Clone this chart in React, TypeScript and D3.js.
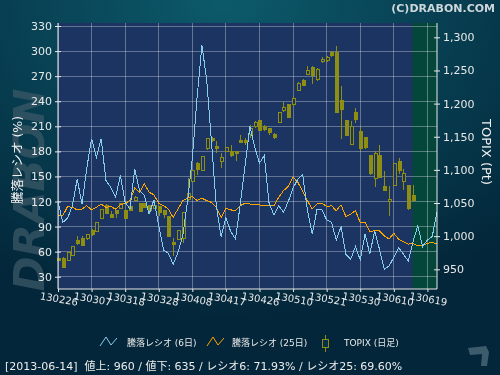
import React, { useEffect, useRef } from 'react';
import * as d3 from 'd3';

// x-axis tick labels (every 7 trading days)
const tickLabels = ['130226', '130307', '130318', '130328', '130408', '130417', '130426', '130510', '130521', '130530', '130610', '130619'];
const tickIndex = [0, 7, 14, 21, 28, 35, 42, 49, 56, 63, 70, 77];

const leftTicks = [30, 60, 90, 120, 150, 180, 210, 240, 270, 300, 330];
const rightTicks = [950, 1000, 1050, 1100, 1150, 1200, 1250, 1300];

// TOPIX daily candles, 2013-02-26 .. 2013-06-14
const openP = [966, 967, 963, 971, 994, 997, 996, 1009, 1007, 1027, 1046, 1032, 1038, 1042, 1038, 1045, 1054, 1050, 1050, 1046,
  1042, 1045, 1038, 1030, 991, 995, 997, 1055, 1083, 1109, 1099, 1132, 1148, 1136, 1112, 1127, 1127, 1127, 1145, 1144,
  1154, 1165, 1175, 1165, 1162, 1153, 1172, 1190, 1198, 1199, 1220, 1235, 1244, 1255, 1236, 1263, 1265, 1277, 1277, 1204,
  1175, 1138, 1187, 1158, 1149, 1121, 1087, 1122, 1075, 1052, 1076, 1112, 1083, 1077, 1062];
const highP = [967, 968, 976, 984, 1001, 1000, 1002, 1011, 1020, 1040, 1048, 1038, 1040, 1050, 1038, 1045, 1061, 1050, 1050, 1046,
  1046, 1045, 1040, 1031, 997, 1009, 1036, 1088, 1099, 1112, 1120, 1147, 1149, 1143, 1126, 1134, 1137, 1129, 1153, 1148,
  1167, 1173, 1175, 1168, 1162, 1156, 1187, 1202, 1198, 1211, 1233, 1237, 1257, 1257, 1254, 1271, 1272, 1279, 1287, 1226,
  1175, 1173, 1194, 1164, 1149, 1121, 1129, 1137, 1098, 1075, 1110, 1118, 1101, 1077, 1077];
const lowP = [962, 953, 963, 971, 986, 986, 994, 1000, 1007, 1027, 1033, 1028, 1027, 1042, 1027, 1039, 1053, 1037, 1044, 1039,
  1042, 1030, 1028, 999, 970, 995, 989, 1053, 1083, 1093, 1099, 1130, 1142, 1126, 1103, 1127, 1120, 1113, 1141, 1138,
  1148, 1163, 1158, 1158, 1153, 1146, 1172, 1187, 1179, 1197, 1219, 1226, 1244, 1229, 1234, 1261, 1263, 1271, 1187, 1147,
  1152, 1138, 1171, 1128, 1131, 1093, 1074, 1089, 1068, 1031, 1076, 1094, 1070, 1039, 1054];
const closeP = [964, 953, 976, 984, 989, 986, 1002, 1002, 1020, 1040, 1034, 1028, 1034, 1050, 1027, 1039, 1059, 1037, 1044, 1039,
  1046, 1035, 1032, 1000, 988, 1009, 1036, 1064, 1099, 1100, 1120, 1147, 1145, 1132, 1118, 1134, 1121, 1124, 1142, 1141,
  1162, 1171, 1160, 1161, 1156, 1149, 1187, 1194, 1179, 1208, 1231, 1228, 1250, 1242, 1252, 1267, 1269, 1273, 1187, 1191,
  1152, 1166, 1176, 1132, 1134, 1094, 1124, 1089, 1069, 1055, 1110, 1099, 1094, 1042, 1054];

// advance/decline ratio (%)
const ratio6 = [120, 95, 100, 115, 147, 117, 160, 195, 173, 195, 145, 137, 125, 151, 119, 111, 159, 133, 127, 105,
  122, 91, 62, 58, 45, 59, 79, 120, 172, 245, 307, 265, 190, 115, 78, 101, 84, 75, 117, 163,
  210, 185, 166, 175, 118, 104, 115, 107, 120, 136, 147, 152, 109, 81, 111, 110, 98, 95, 74, 90,
  57, 51, 66, 50, 81, 57, 85, 63, 39, 43, 53, 65, 57, 49, 71.93, 91, 66, 74, 78, 107];
const ratio25 = [103, 103, 114, 113, 110, 111, 115, 110, 113, 117, 113, 114, 111, 116, 118, 121, 136, 131, 141, 131,
  128, 118, 115, 111, 101, 111, 121, 124, 126, 121, 124, 121, 119, 113, 101, 112, 110, 109, 115, 118,
  117, 116, 116, 115, 115, 115, 125, 133, 138, 149, 143, 132, 121, 111, 117, 118, 114, 115, 109, 116,
  102, 105, 109, 95, 95, 84, 85, 85, 79, 75, 82, 75, 72, 69, 69.6, 67, 67, 70, 71, 69];

const FONT = '"DejaVu Sans", "Noto Sans CJK JP", sans-serif';

const App: React.FC = () => {
  const ref = useRef<SVGSVGElement>(null);

  useEffect(() => {
    if (!ref.current) return;
    const svg = d3.select(ref.current);
    svg.selectAll('*').remove();

    const W = 500, H = 375;
    const L = 58, R = 437, T = 23, B = 289;

    const x = d3.scaleLinear().domain([0, 79]).range([L, R]);
    const yL = d3.scaleLinear().domain([15.3, 333.6]).range([B, T]);
    const yR = d3.scaleLinear().domain([920.3, 1321.6]).range([B, T]);

    const defs = svg.append('defs');
    const bg = defs.append('radialGradient').attr('id', 'bg')
      .attr('cx', '45%').attr('cy', '0%').attr('r', '85%');
    bg.append('stop').attr('offset', '0%').attr('stop-color', '#0c5a6b');
    bg.append('stop').attr('offset', '100%').attr('stop-color', '#03263a');

    svg.append('rect').attr('width', W).attr('height', H).attr('fill', 'url(#bg)');

    // watermark
    svg.append('text')
      .attr('transform', 'translate(44,190) rotate(-90)')
      .attr('text-anchor', 'middle')
      .attr('font-family', FONT).attr('font-weight', 'bold').attr('font-style', 'italic')
      .attr('font-size', 42).attr('fill', '#3a5866').attr('opacity', 0.75)
      .text('DRABON');

    // plot area
    svg.append('rect').attr('x', L).attr('y', T).attr('width', R - L).attr('height', B - T).attr('fill', '#1b3462');
    const lastIdx = closeP.length - 1;
    svg.append('rect').attr('x', x(lastIdx) - 0.5).attr('y', T).attr('width', R - x(lastIdx) + 0.5).attr('height', B - T)
      .attr('fill', '#05463a');

    // grid
    const grid = svg.append('g').attr('stroke', 'rgba(255,255,255,0.32)').attr('shape-rendering', 'crispEdges');
    grid.selectAll('line.h').data(leftTicks).join('line')
      .attr('x1', L).attr('x2', R).attr('y1', d => yL(d)).attr('y2', d => yL(d));
    grid.selectAll('line.v').data(tickIndex).join('line')
      .attr('x1', d => x(d)).attr('x2', d => x(d)).attr('y1', T).attr('y2', B);

    // candles
    const candleColor = '#8e8e12';
    const cg = svg.append('g').attr('shape-rendering', 'crispEdges');
    const idx = d3.range(closeP.length);
    cg.selectAll('line.wick').data(idx).join('line')
      .attr('x1', i => Math.round(x(i)) + 0.5).attr('x2', i => Math.round(x(i)) + 0.5)
      .attr('y1', i => yR(highP[i])).attr('y2', i => yR(lowP[i]))
      .attr('stroke', candleColor);
    cg.selectAll('rect.body').data(idx).join('rect')
      .attr('x', i => Math.round(x(i)) - 1)
      .attr('y', i => yR(Math.max(openP[i], closeP[i])))
      .attr('width', 3)
      .attr('height', i => Math.max(1, Math.abs(yR(openP[i]) - yR(closeP[i]))))
      .attr('fill', i => (closeP[i] < openP[i] ? candleColor : '#1b3462'))
      .attr('stroke', candleColor);

    const line = d3.line<number>().x((_, i) => x(i)).y(d => yL(d));
    svg.append('path').datum(ratio25).attr('d', line)
      .attr('fill', 'none').attr('stroke', '#ffa500').attr('stroke-width', 1).attr('shape-rendering', 'crispEdges');
    svg.append('path').datum(ratio6).attr('d', line)
      .attr('fill', 'none').attr('stroke', '#87cdf0').attr('stroke-width', 1).attr('shape-rendering', 'crispEdges');

    // axes
    const axisColor = '#e8e8e8';
    const left = svg.append('g').attr('transform', `translate(${L},0)`).call(d3.axisLeft(yL).tickValues(leftTicks).tickSize(3).tickPadding(3));
    const right = svg.append('g').attr('transform', `translate(${R},0)`)
      .call(d3.axisRight(yR).tickValues(rightTicks).tickSize(3).tickPadding(3).tickFormat(d3.format(',')));
    const bottom = svg.append('g').attr('transform', `translate(0,${B})`)
      .call(d3.axisBottom(x).tickValues(tickIndex).tickSize(3).tickFormat(() => ''));
    [left, right, bottom].forEach(g => {
      g.select('.domain').attr('stroke', axisColor);
      g.selectAll('.tick line').attr('stroke', axisColor);
      g.selectAll('text').attr('fill', axisColor).attr('font-family', FONT).attr('font-size', 11);
    });
    left.select('.domain').attr('d', `M0,${T}V${B}`);
    right.select('.domain').attr('d', `M0,${T}V${B}`);
    bottom.select('.domain').attr('d', `M${L},0H${R}`);
    left.selectAll('.tick line').attr('x1', 3);
    right.selectAll('.tick line').attr('x1', -3);

    // rotated date labels
    svg.append('g').selectAll('text').data(tickIndex).join('text')
      .attr('transform', d => `translate(${x(d) + 1},299) rotate(10)`)
      .attr('text-anchor', 'middle').attr('dy', '0.35em')
      .attr('font-family', FONT).attr('font-size', 10).attr('fill', axisColor)
      .text((_, i) => tickLabels[i]);

    // axis titles
    svg.append('text').attr('transform', 'translate(18,160) rotate(-90)')
      .attr('text-anchor', 'middle').attr('dy', '0.35em')
      .attr('font-family', FONT).attr('font-size', 12.5).attr('fill', '#f0f0f0')
      .text('騰落レシオ (%)');
    svg.append('text').attr('transform', 'translate(487,152) rotate(90)')
      .attr('text-anchor', 'middle').attr('dy', '0.35em')
      .attr('font-family', FONT).attr('font-size', 13).attr('fill', '#f0f0f0')
      .text('TOPIX (Pt)');

    // copyright
    svg.append('text').attr('x', 495).attr('y', 12).attr('text-anchor', 'end')
      .attr('font-family', FONT).attr('font-weight', 'bold').attr('font-size', 11).attr('fill', '#cdd6da')
      .text('(C)DRABON.COM');

    // legend
    const lg = svg.append('g').attr('font-family', FONT).attr('font-size', 9).attr('fill', '#e8e8e8');
    lg.append('path').attr('d', 'M100,346L106,337L111,345L117,338').attr('fill', 'none').attr('stroke', '#87cdf0');
    lg.append('text').attr('x', 127).attr('y', 346).text('騰落レシオ (6日)');
    lg.append('path').attr('d', 'M207,346L213,337L218,345L224,338').attr('fill', 'none').attr('stroke', '#ffa500');
    lg.append('text').attr('x', 232).attr('y', 346).text('騰落レシオ (25日)');
    lg.append('line').attr('x1', 325.5).attr('x2', 325.5).attr('y1', 335).attr('y2', 352).attr('stroke', candleColor);
    lg.append('rect').attr('x', 322.5).attr('y', 339.5).attr('width', 6).attr('height', 8)
      .attr('fill', '#06304a').attr('stroke', candleColor);
    lg.append('text').attr('x', 344).attr('y', 346).text('TOPIX (日足)');

    // status line
    svg.append('text').attr('x', 5).attr('y', 370)
      .attr('font-family', FONT).attr('font-size', 11).attr('fill', '#ececec')
      .attr('xml:space', 'preserve').style('white-space', 'pre')
      .text('[2013-06-14]  値上: 960 / 値下: 635 / レシオ6: 71.93% / レシオ25: 69.60%');

    // small logo mark
    svg.append('path').attr('d', 'M468,348L486,346L489,352L487,366L481,366L482,354L470,355Z')
      .attr('fill', '#3c5c6c');
  }, []);

  return (
    <svg ref={ref} width={500} height={375}
      style={{ position: 'fixed', left: 0, top: 0, display: 'block' }} />
  );
};

export default App;
